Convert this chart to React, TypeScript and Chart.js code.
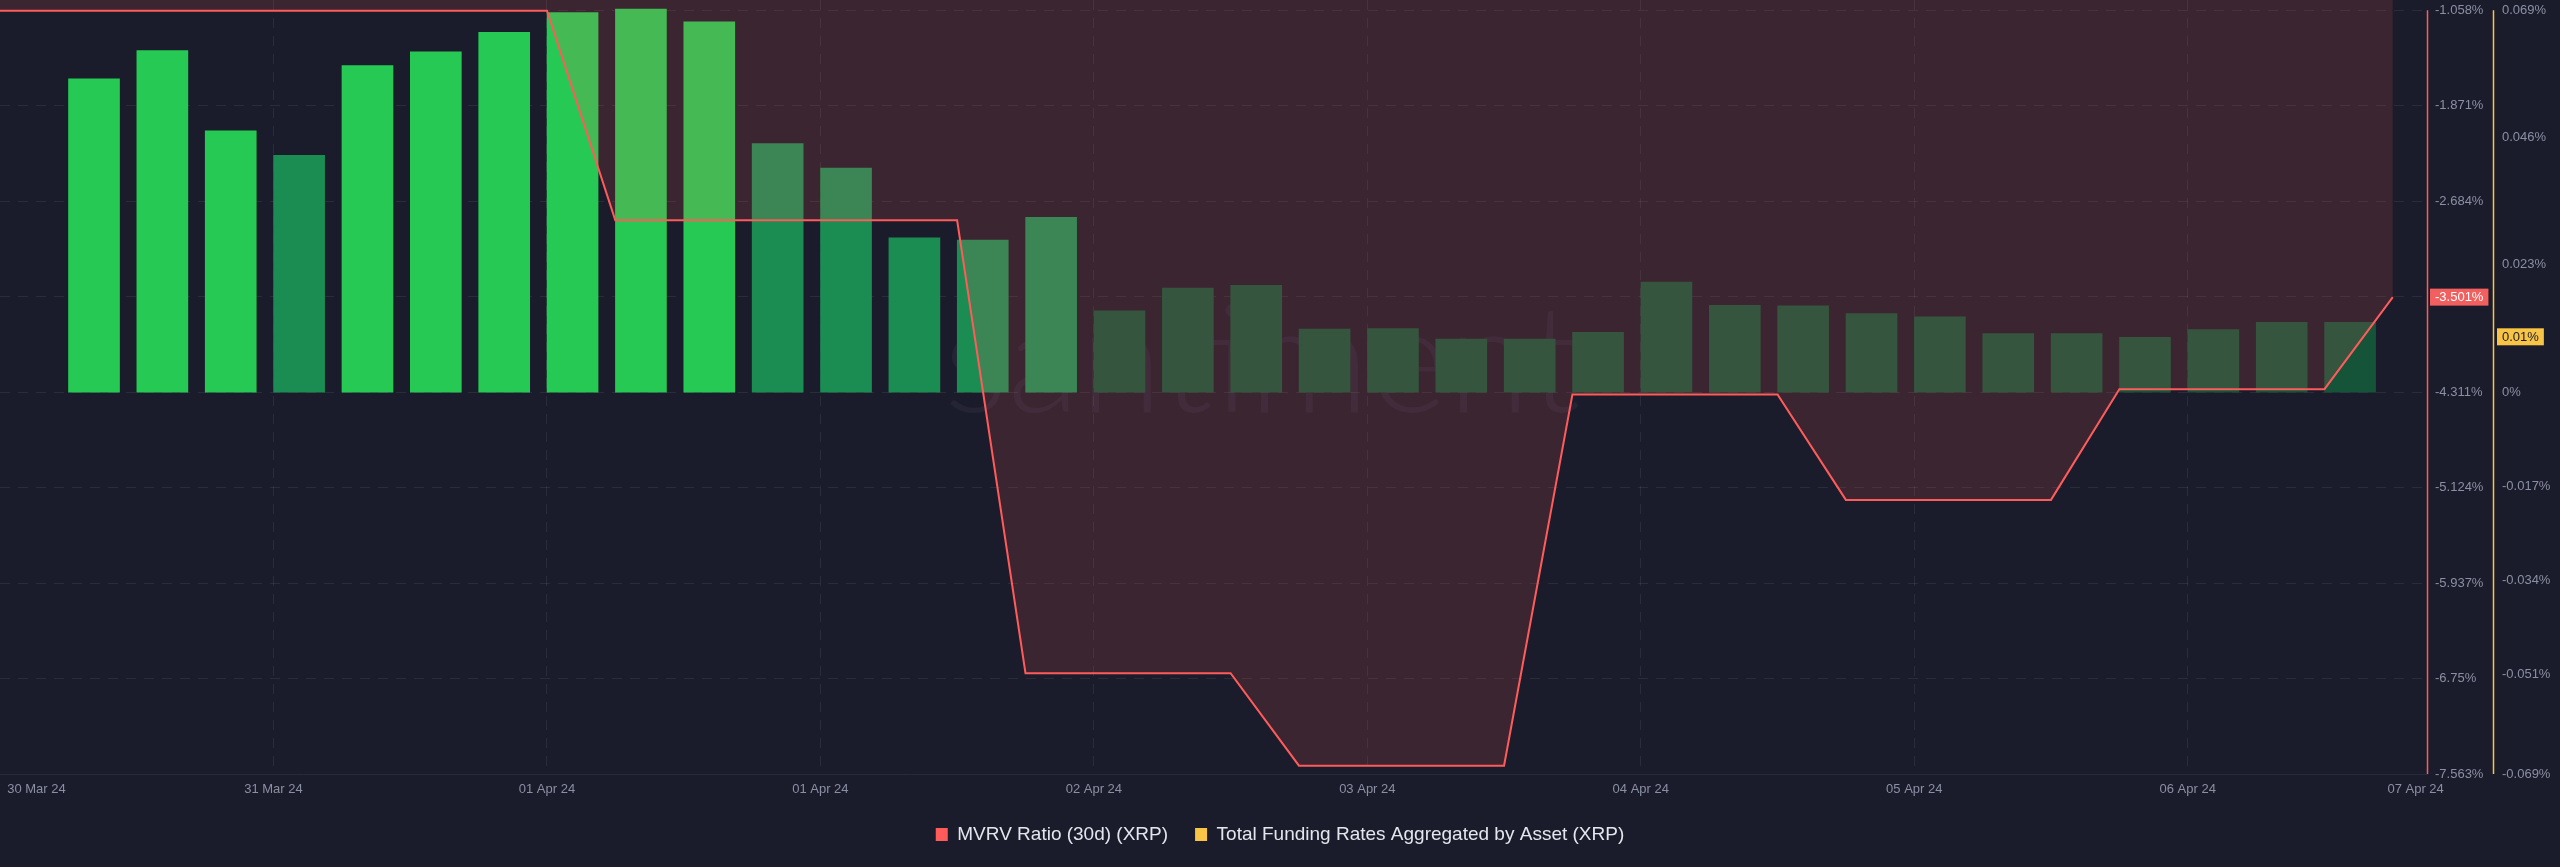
import React, { useEffect, useRef } from 'react';
import { Chart, registerables } from 'chart.js';

Chart.register(...registerables);

// Hours since 30 Mar 24 00:00
const MVRV_HOURS = [0, 6, 12, 18, 24, 30, 36, 42, 48, 54, 60, 66, 72, 78, 84, 90, 96, 102, 108, 114, 120, 126, 132, 138, 144, 150, 156, 162, 168, 174, 180, 186, 192, 198, 204, 210];
const MVRV_VALUES = [
  -1.061, -1.061, -1.061, -1.061, -1.061, -1.061, -1.061, -1.061, -1.061,
  -2.847, -2.847, -2.847, -2.847, -2.847, -2.847,
  -6.704, -6.704, -6.704, -6.704,
  -7.492, -7.492, -7.492, -7.492,
  -4.33, -4.33, -4.33, -4.33,
  -5.228, -5.228, -5.228, -5.228,
  -4.285, -4.285, -4.285, -4.285,
  -3.501,
];

const FUNDING_HOURS = [8.25, 14.25, 20.25, 26.25, 32.25, 38.25, 44.25, 50.25, 56.25, 62.25, 68.25, 74.25, 80.25, 86.25, 92.25, 98.25, 104.25, 110.25, 116.25, 122.25, 128.25, 134.25, 140.25, 146.25, 152.25, 158.25, 164.25, 170.25, 176.25, 182.25, 188.25, 194.25, 200.25, 206.25];
const FUNDING_VALUES = [
  0.0566, 0.0617, 0.0472, 0.0428, 0.059, 0.0615, 0.065, 0.0686, 0.0692, 0.0669,
  0.0449, 0.0405, 0.0279, 0.0275, 0.0316, 0.0147, 0.0188, 0.0193, 0.0114, 0.0115,
  0.0096, 0.0096, 0.0108, 0.0199, 0.0157, 0.0156, 0.0142, 0.0136, 0.0106, 0.0106,
  0.0099, 0.0113, 0.0126, 0.0126,
];
const FUNDING_BADGE_VALUE = 0.01;

const X_TICK_HOURS = [3.2, 24, 48, 72, 96, 120, 144, 168, 192, 212];
const X_TICK_LABELS = ['30 Mar 24', '31 Mar 24', '01 Apr 24', '01 Apr 24', '02 Apr 24', '03 Apr 24', '04 Apr 24', '05 Apr 24', '06 Apr 24', '07 Apr 24'];
const MVRV_TICKS = [-1.058, -1.871, -2.684, -3.497, -4.311, -5.124, -5.937, -6.75, -7.563];
const FUNDING_TICKS = [0.069, 0.046, 0.023, 0, -0.017, -0.034, -0.051, -0.069];

const SERIES_MVRV = 'MVRV Ratio (30d) (XRP)';
const SERIES_FUNDING = 'Total Funding Rates Aggregated by Asset (XRP)';

// styles
const BRIGHT = '#26c953';
const MEDIUM = '#1b8d53';
const DARK = '#16543a';
const BAR_COLORS = [
  BRIGHT, BRIGHT, BRIGHT, MEDIUM, BRIGHT, BRIGHT, BRIGHT, BRIGHT, BRIGHT, BRIGHT,
  MEDIUM, MEDIUM, MEDIUM, MEDIUM, MEDIUM, DARK, DARK, DARK, DARK, DARK,
  DARK, DARK, DARK, DARK, DARK, DARK, DARK, DARK, DARK, DARK,
  DARK, DARK, DARK, DARK,
];
const FONT = '"Liberation Sans", Arial, sans-serif';
const BG = '#1b1c2b';
const GRID = 'rgba(255,255,255,0.07)';
const TICK_COLOR = '#8b8fa3';
const RED = '#ff5b5b';
const YELLOW = '#f7c445';

const W = 2560;
const H = 867;

const bgPlugin = {
  id: 'bg',
  beforeDraw(chart: any) {
    const { ctx } = chart;
    ctx.save();
    ctx.fillStyle = BG;
    ctx.fillRect(0, 0, chart.width, chart.height);
    ctx.restore();
  },
};

const legendFitPlugin = {
  id: 'legendFit',
  beforeUpdate(chart: any) {
    const lg = chart.legend;
    if (lg && !lg.__patched) {
      const orig = lg.fit.bind(lg);
      lg.fit = function () {
        orig();
        this.height = 69;
      };
      lg.__patched = true;
    }
  },
};

const watermarkPlugin = {
  id: 'watermark',
  beforeDatasetsDraw(chart: any) {
    const { ctx, chartArea } = chart;
    ctx.save();
    ctx.beginPath();
    ctx.rect(chartArea.left, chartArea.top, chartArea.width, chartArea.height);
    ctx.clip();
    ctx.font = '300 150px Lato';
    ctx.fillStyle = 'rgba(190,170,220,0.06)';
    ctx.textAlign = 'center';
    ctx.textBaseline = 'middle';
    ctx.fillText('santiment', chartArea.left + chartArea.width * 0.52, chartArea.top + chartArea.height * 0.47);
    ctx.restore();
  },
};

const axesPlugin = {
  id: 'axesDecor',
  afterDraw(chart: any) {
    const { ctx, chartArea } = chart;
    const yM = chart.scales.y;
    const yF = chart.scales.yF;
    ctx.save();
    // axis lines
    ctx.lineWidth = 1.5;
    ctx.strokeStyle = RED;
    ctx.beginPath();
    ctx.moveTo(yM.left + 0.5, yM.getPixelForValue(MVRV_TICKS[0]));
    ctx.lineTo(yM.left + 0.5, chartArea.bottom);
    ctx.stroke();
    ctx.strokeStyle = YELLOW;
    ctx.beginPath();
    ctx.moveTo(yF.left + 0.5, yF.getPixelForValue(FUNDING_TICKS[0]));
    ctx.lineTo(yF.left + 0.5, chartArea.bottom);
    ctx.stroke();

    // badges
    ctx.font = `13px ${FONT}`;
    ctx.textBaseline = 'middle';
    ctx.textAlign = 'left';
    const last = MVRV_VALUES[MVRV_VALUES.length - 1];
    const t1 = `${last}%`;
    const py1 = yM.getPixelForValue(last);
    const w1 = ctx.measureText(t1).width;
    ctx.fillStyle = '#f25f5f';
    ctx.fillRect(yM.left + 3, py1 - 8.5, w1 + 10, 17);
    ctx.fillStyle = '#ffffff';
    ctx.fillText(t1, yM.left + 8, py1 + 0.5);

    const t2 = `${FUNDING_BADGE_VALUE}%`;
    const py2 = yF.getPixelForValue(FUNDING_BADGE_VALUE);
    const w2 = ctx.measureText(t2).width;
    ctx.fillStyle = YELLOW;
    ctx.fillRect(yF.left + 4, py2 - 8.5, w2 + 10, 17);
    ctx.fillStyle = '#1b1c2b';
    ctx.fillText(t2, yF.left + 9, py2 + 0.5);
    ctx.restore();
  },
};

export default function App() {
  const ref = useRef<HTMLCanvasElement>(null);

  useEffect(() => {
    document.body.style.margin = '0';
    document.body.style.background = BG;
    const canvas = ref.current!;
    const chart = new Chart(canvas, {
      type: 'bar',
      data: {
        datasets: [
          {
            type: 'line',
            label: SERIES_MVRV,
            data: MVRV_HOURS.map((h, i) => ({ x: h, y: MVRV_VALUES[i] })),
            borderColor: RED,
            borderWidth: 2,
            backgroundColor: 'rgba(255,91,91,0.14)',
            fill: 'end',
            pointRadius: 0,
            tension: 0,
            yAxisID: 'y',
            xAxisID: 'x',
            order: 1,
          } as any,
          {
            type: 'bar',
            label: SERIES_FUNDING,
            data: FUNDING_HOURS.map((h, i) => ({ x: h, y: FUNDING_VALUES[i] })),
            backgroundColor: BAR_COLORS,
            borderWidth: 0,
            barThickness: 51,
            yAxisID: 'yF',
            xAxisID: 'x',
            order: 2,
          } as any,
        ],
      },
      options: {
        responsive: false,
        animation: false,
        devicePixelRatio: 1,
        layout: { padding: 0 },
        plugins: {
          tooltip: { enabled: false },
          legend: {
            position: 'bottom',
            labels: {
              boxWidth: 12,
              boxHeight: 13,
              padding: 27,
              color: '#e4e6ee',
              font: { size: 19, family: FONT },
              generateLabels: () => [
                { text: SERIES_MVRV, fillStyle: RED, strokeStyle: RED, lineWidth: 0, hidden: false, datasetIndex: 0, fontColor: '#e4e6ee' } as any,
                { text: SERIES_FUNDING, fillStyle: YELLOW, strokeStyle: YELLOW, lineWidth: 0, hidden: false, datasetIndex: 1, fontColor: '#e4e6ee' } as any,
              ],
            },
          },
        },
        scales: {
          x: {
            type: 'linear',
            min: 0,
            max: 213,
            offset: false,
            afterBuildTicks: (scale: any) => {
              scale.ticks = X_TICK_HOURS.map((v) => ({ value: v }));
            },
            afterFit: (scale: any) => {
              scale.height = 24;
              scale.paddingLeft = 0;
              scale.paddingRight = 0;
            },
            ticks: {
              autoSkip: false,
              maxRotation: 0,
              minRotation: 0,
              padding: 8,
              color: TICK_COLOR,
              font: { size: 13, family: FONT },
              callback: (_v: any, i: number) => X_TICK_LABELS[i],
            },
            grid: {
              offset: false,
              drawTicks: false,
              color: (ctx: any) => (ctx.index === 0 || ctx.index === X_TICK_HOURS.length - 1 ? 'rgba(0,0,0,0)' : GRID),
            },
            border: { display: true, color: '#272a3b', width: 1, dash: [10, 8] },
          } as any,
          y: {
            type: 'linear',
            position: 'right',
            min: -7.563,
            max: -0.97,
            afterBuildTicks: (scale: any) => {
              scale.ticks = MVRV_TICKS.map((v) => ({ value: v }));
            },
            afterFit: (scale: any) => {
              scale.width = 66;
              scale.paddingTop = 0;
              scale.paddingBottom = 0;
            },
            ticks: {
              padding: 8,
              color: TICK_COLOR,
              font: { size: 13, family: FONT },
              callback: (v: any) => `${v}%`,
            },
            grid: { color: GRID, drawTicks: false },
            border: { display: false, dash: [10, 8] },
          } as any,
          yF: {
            type: 'linear',
            position: 'right',
            min: -0.069,
            max: 0.07086,
            afterBuildTicks: (scale: any) => {
              scale.ticks = FUNDING_TICKS.map((v) => ({ value: v }));
            },
            afterFit: (scale: any) => {
              scale.width = 67;
              scale.paddingTop = 0;
              scale.paddingBottom = 0;
            },
            ticks: {
              padding: 9,
              color: TICK_COLOR,
              font: { size: 13, family: FONT },
              callback: (v: any) => `${v}%`,
            },
            grid: { display: false, drawTicks: false },
            border: { display: false },
          } as any,
        },
      },
      plugins: [bgPlugin, legendFitPlugin, watermarkPlugin, axesPlugin],
    });
    return () => chart.destroy();
  }, []);

  return (
    <canvas
      ref={ref}
      width={W}
      height={H}
      style={{ display: 'block', width: W, height: H }}
    />
  );
}
